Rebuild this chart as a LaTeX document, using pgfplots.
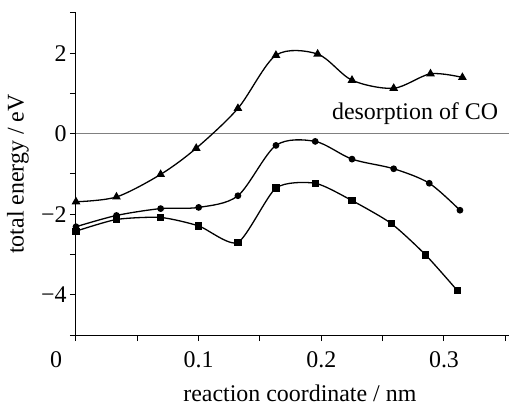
\documentclass[border=0pt]{standalone}
\usepackage{fontspec}
\setmainfont{Liberation Serif}
\usepackage{pgfplots}
\pgfplotsset{compat=1.18}
\usetikzlibrary{calc}
\begin{document}
\begin{tikzpicture}
\begin{axis}[
 scale only axis, width=433bp, height=322bp,
 xmin=0, xmax=0.353, ymin=-5, ymax=3,
 axis x line*=bottom, axis y line*=left,
 axis line style={line width=1bp},
 xtick={0,0.1,0.2,0.3},
 xticklabels={\makebox[0pt][r]{0\hspace{14bp}},0.1,0.2,0.3},
 minor xtick={0.05,0.15,0.25,0.35},
 ytick={-4,-2,0,2}, yticklabels={−4,−2,0,2},
 minor ytick={-5,-3,-1,1,3},
 tick align=outside, major tick length=6bp, minor tick length=6bp,
 tick style={line width=1bp, black},
 ticklabel style={font=\fontsize{24}{28}\selectfont},
 xticklabel style={yshift=-7bp},
 label style={font=\fontsize{24}{28}\selectfont},
 xlabel={reaction coordinate / nm}, ylabel={total energy / eV},
 xlabel style={at={(axis description cs:0.517,-0.180)}, anchor=center},
 ylabel style={at={(axis description cs:-0.134,0.5)}, anchor=center},
 clip=false,
]
\coordinate (ll) at (rel axis cs:0,0);
\coordinate (ur) at (rel axis cs:1,1);
\addplot[gray, line width=0.8bp] coordinates {(0,0) (0.353,0)};
\addplot[black, line width=1.3bp, smooth, tension=0.5, mark=triangle*, mark size=3.8bp] coordinates {
(0,-1.69) (0.033,-1.57) (0.069,-1.01) (0.098,-0.36) (0.132,0.63) (0.163,1.95) (0.197,1.98) (0.225,1.33) (0.259,1.13) (0.289,1.49) (0.315,1.40)};
\addplot[black, line width=1.3bp, smooth, tension=0.5, mark=*, mark size=2.7bp] coordinates {
(0,-2.31) (0.033,-2.03) (0.069,-1.86) (0.100,-1.83) (0.132,-1.54) (0.163,-0.29) (0.195,-0.19) (0.225,-0.63) (0.259,-0.87) (0.288,-1.23) (0.313,-1.90)};
\addplot[black, line width=1.3bp, smooth, tension=0.4, mark=square*, mark size=3bp] coordinates {
(0,-2.42) (0.033,-2.13) (0.069,-2.08) (0.100,-2.29) (0.132,-2.70) (0.163,-1.35) (0.195,-1.23) (0.225,-1.66) (0.257,-2.23) (0.285,-3.01) (0.311,-3.90)};
\node[anchor=base east, font=\fontsize{24}{28}\selectfont, yshift=14bp] at (axis cs:0.347,0) {desorption of CO};
\end{axis}
\pgfresetboundingbox
\path ($(ll)+(-76bp,-71bp)$) rectangle ($(ur)+(0,13bp)$);
\end{tikzpicture}
\end{document}
